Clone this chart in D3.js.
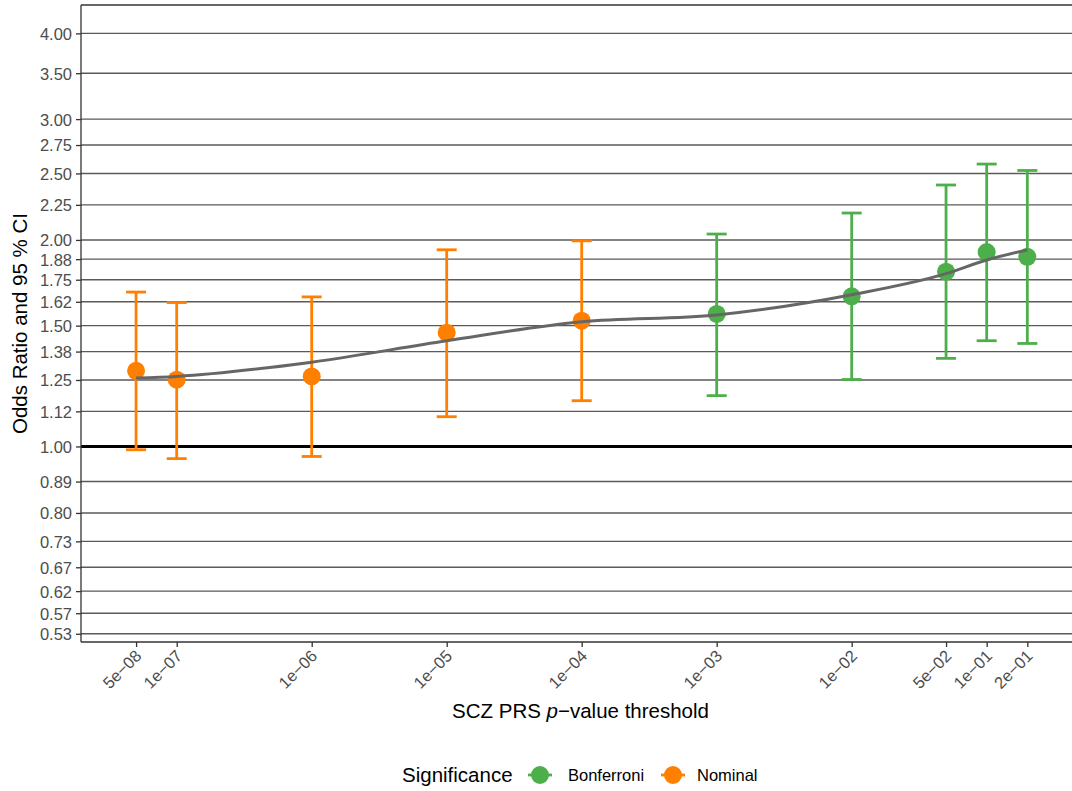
<!DOCTYPE html>
<html>
<head>
<meta charset="utf-8">
<script src="https://cdn.jsdelivr.net/npm/d3@7"></script>
<style>
  body { margin: 0; background: #fff; }
  svg { font-family: "Liberation Sans", Arial, Helvetica, sans-serif; }
</style>
</head>
<body>
<div id="chart"></div>
<script>
// ---- data ----
const thresholds = [5e-8, 1e-7, 1e-6, 1e-5, 1e-4, 1e-3, 1e-2, 5e-2, 1e-1, 2e-1];
const thresholdLabels = ['5e\u221208', '1e\u221207', '1e\u221206', '1e\u221205', '1e\u221204',
                         '1e\u221203', '1e\u221202', '5e\u221202', '1e\u221201', '2e\u221201'];
const oddsRatio = [1.289, 1.251, 1.265, 1.465, 1.525, 1.560, 1.655, 1.798, 1.920, 1.890];
const ciLower   = [0.989, 0.960, 0.967, 1.105, 1.166, 1.186, 1.252, 1.344, 1.426, 1.413];
const ciUpper   = [1.679, 1.621, 1.652, 1.935, 1.994, 2.040, 2.189, 2.405, 2.580, 2.525];
const significance = ['Nominal', 'Nominal', 'Nominal', 'Nominal', 'Nominal',
                      'Bonferroni', 'Bonferroni', 'Bonferroni', 'Bonferroni', 'Bonferroni'];
// loess smooth as it appears in the figure
const smoothOR = [1.258, 1.265, 1.327, 1.426, 1.520, 1.555, 1.664, 1.786, 1.870, 1.934];

const yBreaks = [1/1.875, 1/1.75, 1/1.625, 1/1.5, 1/1.375, 1/1.25, 1/1.125, 1,
                 1.125, 1.25, 1.375, 1.5, 1.625, 1.75, 1.875, 2, 2.25, 2.5, 2.75, 3, 3.5, 4];
const yLabels = ['0.53', '0.57', '0.62', '0.67', '0.73', '0.80', '0.89', '1.00',
                 '1.12', '1.25', '1.38', '1.50', '1.62', '1.75', '1.88', '2.00',
                 '2.25', '2.50', '2.75', '3.00', '3.50', '4.00'];

const groups = ['Bonferroni', 'Nominal'];
const groupColors = ['#4DAF4A', '#FF7F00'];

// ---- layout ----
const W = 1072, H = 791;
const panel = { left: 81, right: 1072, top: 5, bottom: 642 };
const tickFont = '16.5px';
const titleFont = '20.5px';

const svg = d3.select('#chart').append('svg')
    .attr('width', W)
    .attr('height', H);

const x = d3.scaleLog()
    .domain([Math.pow(10, -7.709), Math.pow(10, -0.368)])
    .range([panel.left, panel.right]);

const y = d3.scaleLog()
    .domain([0.5188, 4.40])
    .range([panel.bottom, panel.top]);

const color = d3.scaleOrdinal().domain(groups).range(groupColors);

const rows = thresholds.map((t, i) => ({
    t, or: oddsRatio[i], lo: ciLower[i], hi: ciUpper[i],
    sig: significance[i], smooth: smoothOR[i]
}));

// gridlines
svg.append('g')
    .selectAll('line')
    .data(yBreaks)
    .join('line')
    .attr('x1', panel.left)
    .attr('x2', panel.right)
    .attr('y1', d => y(d))
    .attr('y2', d => y(d))
    .attr('stroke', d => d === 1 ? '#000' : '#5a5a5a')
    .attr('stroke-width', d => d === 1 ? 3 : 1.4);

// top border
svg.append('line')
    .attr('x1', panel.left).attr('x2', panel.right)
    .attr('y1', panel.top).attr('y2', panel.top)
    .attr('stroke', '#333').attr('stroke-width', 1.3);

// y axis
const yAxis = svg.append('g')
    .attr('transform', `translate(${panel.left},0)`)
    .call(d3.axisLeft(y)
        .tickValues(yBreaks)
        .tickFormat((d, i) => yLabels[i])
        .tickSize(5)
        .tickPadding(4));

// x axis
const xAxis = svg.append('g')
    .attr('transform', `translate(0,${panel.bottom})`)
    .call(d3.axisBottom(x)
        .tickValues(thresholds)
        .tickFormat((d, i) => thresholdLabels[i])
        .tickSize(5));

[yAxis, xAxis].forEach(a => {
    a.select('.domain').remove();
    a.selectAll('.tick line').attr('stroke', '#333').attr('stroke-width', 1.3);
    a.selectAll('.tick text')
        .attr('fill', '#4d4d4d')
        .style('font-size', tickFont);
});
svg.append('line')
    .attr('x1', panel.left).attr('x2', panel.left)
    .attr('y1', panel.top).attr('y2', panel.bottom)
    .attr('stroke', '#333').attr('stroke-width', 1.3);
svg.append('line')
    .attr('x1', panel.left).attr('x2', panel.right)
    .attr('y1', panel.bottom).attr('y2', panel.bottom)
    .attr('stroke', '#333').attr('stroke-width', 1.3);

yAxis.selectAll('.tick text').attr('dy', '0.36em');

xAxis.selectAll('.tick text')
    .attr('text-anchor', 'end')
    .attr('dy', null)
    .attr('y', 0)
    .attr('transform', 'translate(6,15) rotate(-45)');

// error bars
const bars = svg.append('g')
    .selectAll('g')
    .data(rows)
    .join('g')
    .attr('stroke', d => color(d.sig))
    .attr('stroke-width', 2.8);

bars.append('line')
    .attr('x1', d => x(d.t)).attr('x2', d => x(d.t))
    .attr('y1', d => y(d.lo)).attr('y2', d => y(d.hi));
bars.append('line')
    .attr('x1', d => x(d.t) - 10).attr('x2', d => x(d.t) + 10)
    .attr('y1', d => y(d.lo)).attr('y2', d => y(d.lo));
bars.append('line')
    .attr('x1', d => x(d.t) - 10).attr('x2', d => x(d.t) + 10)
    .attr('y1', d => y(d.hi)).attr('y2', d => y(d.hi));

// points
svg.append('g')
    .selectAll('circle')
    .data(rows)
    .join('circle')
    .attr('cx', d => x(d.t))
    .attr('cy', d => y(d.or))
    .attr('r', 9)
    .attr('fill', d => color(d.sig));

// smooth line
svg.append('path')
    .datum(rows)
    .attr('fill', 'none')
    .attr('stroke', '#666')
    .attr('stroke-width', 3)
    .attr('d', d3.line()
        .x(d => x(d.t))
        .y(d => y(d.smooth))
        .curve(d3.curveMonotoneX));

// axis titles
svg.append('text')
    .attr('transform', `translate(27,${(panel.top + panel.bottom) / 2}) rotate(-90)`)
    .attr('text-anchor', 'middle')
    .style('font-size', titleFont)
    .attr('fill', '#000')
    .text('Odds Ratio and 95 % CI');

const xTitle = svg.append('text')
    .attr('x', (panel.left + panel.right) / 2 + 4)
    .attr('y', 718)
    .attr('text-anchor', 'middle')
    .style('font-size', titleFont)
    .attr('fill', '#000');
xTitle.append('tspan').text('SCZ PRS ');
xTitle.append('tspan').style('font-style', 'italic').text('p');
xTitle.append('tspan').text('\u2212value threshold');

// legend
const legend = svg.append('g').attr('transform', 'translate(0,775)');
legend.append('text')
    .attr('x', 402).attr('y', 7)
    .style('font-size', titleFont)
    .attr('fill', '#000')
    .text('Significance');

const keyX = [540, 673];
const labelX = [568, 697];
groups.forEach((gname, i) => {
    const k = legend.append('g').attr('transform', `translate(${keyX[i]},0)`);
    k.append('line')
        .attr('x1', -12).attr('x2', 12)
        .attr('stroke', color(gname)).attr('stroke-width', 2.8);
    k.append('circle').attr('r', 9).attr('fill', color(gname));
    legend.append('text')
        .attr('x', labelX[i]).attr('y', 6)
        .style('font-size', tickFont)
        .attr('fill', '#000')
        .text(gname);
});
</script>
</body>
</html>
